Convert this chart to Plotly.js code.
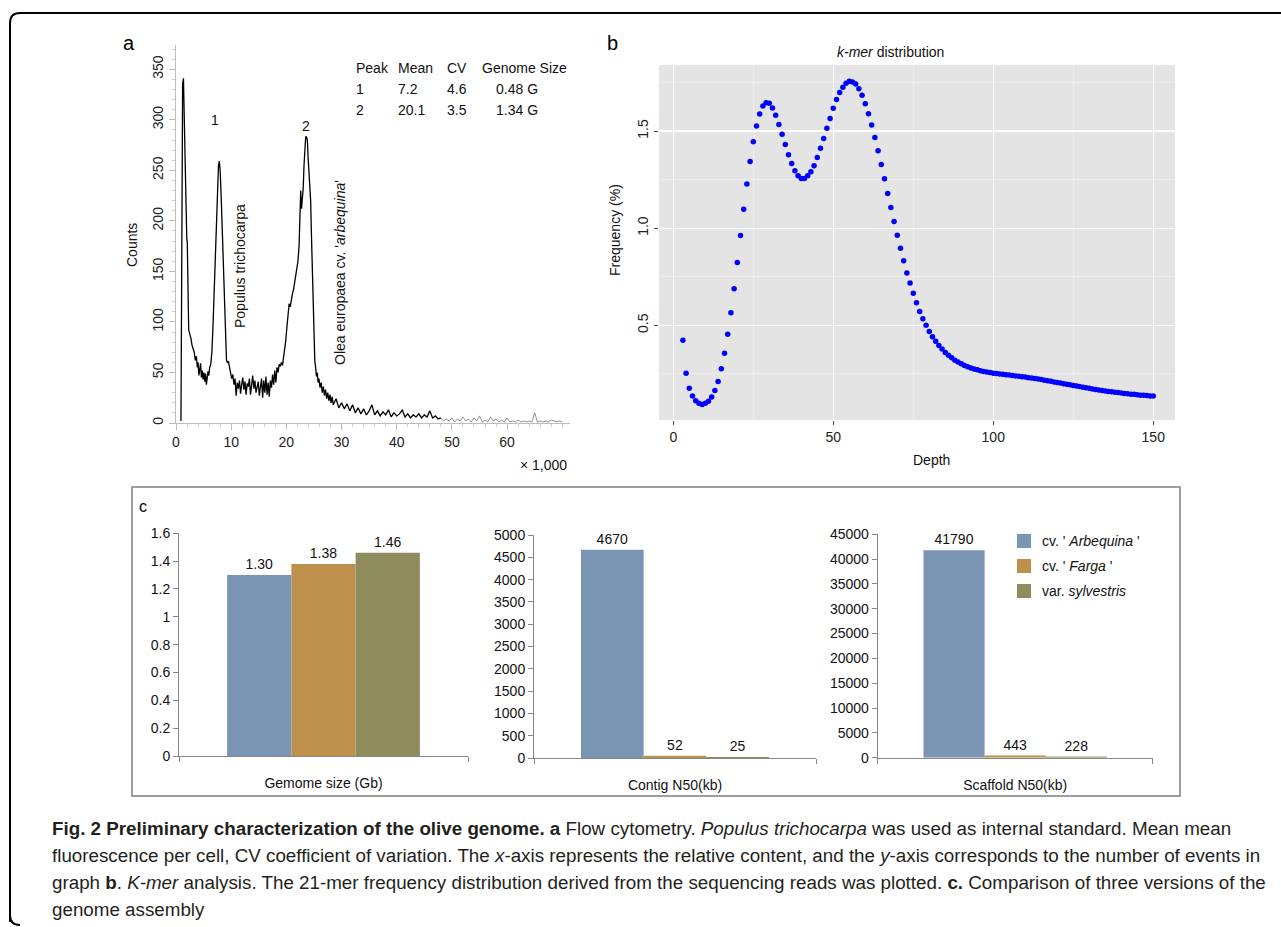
<!DOCTYPE html>
<html>
<head>
<meta charset="utf-8">
<script src="https://cdn.plot.ly/plotly-3.0.1.min.js"></script>
<style>
  html, body { margin: 0; padding: 0; background: #fff; }
  #chart { width: 1281px; height: 927px; }
</style>
</head>
<body>
<div id="chart"></div>
<script>
// ---------- Panel a: flow cytometry ----------
const flowRelContent = [0.9,1.05,1.2,1.35,1.5,1.65,1.8,1.95,2.05,2.2,2.3,2.5,2.7,2.9,3.1,3.3,3.5,3.7,3.85,4.0,4.15,4.3,4.45,4.6,4.75,4.9,5.05,5.2,5.35,5.5,5.65,5.8,5.95,6.1,6.3,6.5,6.7,6.9,7.1,7.3,7.5,7.7,7.85,8.0,8.2,8.4,8.6,8.8,9.0,9.15,9.3,9.5,9.7,9.9,10.1,10.3,10.5,10.7,10.9,11.1,11.3,11.5,11.7,11.9,12.1,12.3,12.5,12.7,12.9,13.1,13.3,13.5,13.7,13.9,14.1,14.3,14.5,14.7,14.9,15.1,15.3,15.5,15.7,15.9,16.1,16.3,16.5,16.7,16.9,17.1,17.3,17.5,17.7,17.9,18.1,18.3,18.5,18.7,18.9,19.1,19.3,19.5,19.7,19.9,20.1,20.3,20.5,20.7,20.9,21.1,21.3,21.5,21.7,21.9,22.1,22.3,22.45,22.6,22.75,22.9,23.05,23.2,23.35,23.5,23.65,23.8,23.95,24.1,24.25,24.4,24.55,24.7,24.85,25.0,25.15,25.3,25.45,25.6,25.75,25.9,26.1,26.3,26.5,26.7,26.9,27.1,27.3,27.5,27.7,27.9,28.1,28.3,28.5,29.0,29.5,30.0,30.5,31.0,31.5,32.0,32.5,33.0,33.5,34.0,34.5,35.0,35.5,36.0,36.5,37.0,37.5,38.0,38.5,39.0,39.5,40.0,40.5,41.0,41.5,42.0,42.5,43.0,43.5,44.0,44.5,45.0,45.5,46.0,46.5,47.0,47.5,48.0];
const flowCounts = [2,120,335,341,300,232,196,183,178,120,92,88,84,77,73,70,62,66,55,60,47,55,59,45,52,43,50,41,49,38,46,51,47,55,58,70,95,132,165,200,232,255,259,250,222,185,145,105,80,62,60,61,55,50,44,48,38,44,27,40,34,42,29,38,45,33,41,28,39,36,44,28,40,47,34,42,30,38,41,27,36,44,25,42,30,46,28,40,26,42,35,48,38,52,40,55,50,58,56,60,57,65,75,82,95,108,118,115,124,128,132,140,146,152,160,175,195,230,212,222,232,255,278,283,283,280,262,245,228,220,185,150,110,80,62,55,46,50,40,44,35,40,30,36,27,33,24,30,22,28,20,26,18,24,15,20,14,19,12,18,10,15,9,14,8,12,18,8,12,7,11,8,13,6,10,7,9,13,6,9,5,8,6,9,5,8,6,12,5,7,4,5];
const flowTailContent = [48.0,48.5,49.0,49.5,50.0,50.5,51.0,51.5,52.0,52.5,53.0,53.5,54.0,54.5,55.0,55.5,56.0,56.5,57.0,57.5,58.0,58.5,59.0,59.5,60.0,60.5,61.0,61.5,62.0,62.5,63.0,63.5,64.0,64.5,65.0,65.5,66.0,66.5,67.0,67.5,68.0,68.5,69.0,69.5,70.0];
const flowTailCounts = [5,2,4,2,5,1,4,2,6,2,4,1,5,2,7,1,3,1,6,2,4,1,3,1,5,1,2,1,3,1,2,1,2,1,10,1,2,1,2,1,3,2,1,2,1];
const flowTickValues = [0, 10, 20, 30, 40, 50, 60];
const peakTableHeader = ["Peak", "Mean", "CV", "Genome Size"];
const peakIds = ["1", "2"];
const peakMeans = ["7.2", "20.1"];
const peakCVs = ["4.6", "3.5"];
const peakGenomeSizes = ["0.48 G", "1.34 G"];

// ---------- Panel b: k-mer distribution ----------
const kmerDepth = [3,4,5,6,7,8,9,10,11,12,13,14,15,16,17,18,19,20,21,22,23,24,25,26,27,28,29,30,31,32,33,34,35,36,37,38,39,40,41,42,43,44,45,46,47,48,49,50,51,52,53,54,55,56,57,58,59,60,61,62,63,64,65,66,67,68,69,70,71,72,73,74,75,76,77,78,79,80,81,82,83,84,85,86,87,88,89,90,91,92,93,94,95,96,97,98,99,100,101,102,103,104,105,106,107,108,109,110,111,112,113,114,115,116,117,118,119,120,121,122,123,124,125,126,127,128,129,130,131,132,133,134,135,136,137,138,139,140,141,142,143,144,145,146,147,148,149,150];
const kmerFrequency = [0.423,0.254,0.176,0.136,0.112,0.099,0.093,0.099,0.110,0.131,0.165,0.211,0.277,0.357,0.454,0.565,0.689,0.823,0.962,1.098,1.227,1.344,1.445,1.526,1.588,1.629,1.646,1.643,1.619,1.582,1.534,1.483,1.431,1.378,1.333,1.296,1.270,1.256,1.256,1.270,1.290,1.321,1.364,1.411,1.462,1.515,1.565,1.617,1.662,1.699,1.725,1.746,1.756,1.753,1.742,1.718,1.684,1.641,1.589,1.531,1.467,1.399,1.328,1.254,1.179,1.107,1.034,0.964,0.897,0.833,0.770,0.718,0.665,0.617,0.572,0.534,0.500,0.469,0.442,0.418,0.397,0.378,0.361,0.346,0.333,0.321,0.311,0.302,0.294,0.287,0.281,0.276,0.271,0.267,0.263,0.260,0.257,0.254,0.252,0.250,0.248,0.246,0.244,0.242,0.240,0.238,0.236,0.234,0.231,0.229,0.226,0.224,0.221,0.218,0.215,0.212,0.209,0.206,0.203,0.200,0.197,0.194,0.191,0.188,0.185,0.182,0.179,0.176,0.173,0.170,0.167,0.165,0.162,0.160,0.158,0.156,0.154,0.152,0.150,0.148,0.146,0.145,0.143,0.141,0.140,0.139,0.137,0.136];

// ---------- Panel c: assembly comparison ----------
const assemblyVersions = ["cv. ' <i>Arbequina</i> '", "cv. ' <i>Farga</i> '", "var. <i>sylvestris</i>"];
const versionColors = ["#7a94b3", "#bd904c", "#8e8c5c"];
const metricCategories = ["Gemome size (Gb)", "Contig N50(kb)", "Scaffold N50(kb)"];
const genomeSizeGb = [1.30, 1.38, 1.46];
const contigN50kb = [4670, 52, 25];
const scaffoldN50kb = [41790, 443, 228];

// ---------- helpers ----------
const W = 1281, H = 927;
const px = v => v / W;
const py = v => 1 - v / H;
const FONT = "Liberation Sans, Arial, sans-serif";
const CAPFONT = "Liberation Sans, Arial, sans-serif";

const traces = [];
traces.push({x: flowRelContent, y: flowCounts, xaxis: 'x', yaxis: 'y', type: 'scatter', mode: 'lines',
  line: {color: '#000', width: 1.3}, hoverinfo: 'skip'});
traces.push({x: flowTailContent, y: flowTailCounts, xaxis: 'x', yaxis: 'y', type: 'scatter', mode: 'lines',
  line: {color: '#777', width: 0.8}, hoverinfo: 'skip'});
traces.push({x: kmerDepth, y: kmerFrequency, xaxis: 'x2', yaxis: 'y2', type: 'scatter', mode: 'markers',
  marker: {color: '#0000ff', size: 5.5}, hoverinfo: 'skip'});

const metricSeries = [genomeSizeGb, contigN50kb, scaffoldN50kb];
const axisPairs = [['x3', 'y3'], ['x4', 'y4'], ['x5', 'y5']];
metricSeries.forEach((series, m) => {
  series.forEach((val, v) => {
    traces.push({
      type: 'bar', x: [metricCategories[m]], y: [val], xaxis: axisPairs[m][0], yaxis: axisPairs[m][1],
      name: assemblyVersions[v], offsetgroup: String(v), marker: {color: versionColors[v]},
      text: [m === 0 ? val.toFixed(2) : String(val)], textposition: 'outside',
      textfont: {family: FONT, size: 14, color: '#111'}, cliponaxis: false, hoverinfo: 'skip'
    });
  });
});

const aTick = {color: '#222', size: 14, family: FONT};
const cAxisY = (d0, d1, range, dtick, anchor) => ({
  domain: [py(d0), py(d1)], range: range, dtick: dtick, tick0: 0, anchor: anchor, tickformat: dtick < 1 ? '' : 'd',
  showline: true, linecolor: '#868686', linewidth: 1, ticks: 'outside', ticklen: 5, tickcolor: '#868686',
  showgrid: false, zeroline: false, tickfont: {size: 14, color: '#111', family: FONT}
});
const cAxisX = (d0, d1, anchor) => ({
  domain: [px(d0), px(d1)], anchor: anchor, type: 'category',
  showline: true, linecolor: '#868686', linewidth: 1, ticks: 'outside', ticklen: 5, tickcolor: '#868686',
  tickson: 'boundaries', showgrid: false, zeroline: false, ticklabelstandoff: 14,
  tickfont: {size: 14, color: '#111', family: FONT}
});

const ann = [];
const txt = (x, y, text, opts = {}) => ann.push(Object.assign({
  xref: 'paper', yref: 'paper', x: px(x), y: py(y), text: text, showarrow: false,
  xanchor: 'center', yanchor: 'middle', font: {family: FONT, size: 14, color: '#111'}
}, opts));

// panel labels
txt(129, 43, 'a', {font: {family: FONT, size: 20, color: '#000'}});
txt(612, 43, 'b', {font: {family: FONT, size: 20, color: '#000'}});
txt(143, 506, 'c', {font: {family: FONT, size: 16, color: '#000'}});

// panel a texts
const colX = [354, 396, 445, 480];
peakTableHeader.forEach((h, i) => txt(colX[i], 68, h, {xanchor: 'left'}));
const rowY = [89, 110];
peakIds.forEach((p, r) => {
  txt(colX[0], rowY[r], p, {xanchor: 'left'});
  txt(colX[1], rowY[r], peakMeans[r], {xanchor: 'left'});
  txt(colX[2], rowY[r], peakCVs[r], {xanchor: 'left'});
  txt(494, rowY[r], peakGenomeSizes[r], {xanchor: 'left'});
});
txt(215, 120, '1');
txt(306, 126, '2');
txt(240, 266, 'Populus trichocarpa', {textangle: -90});
txt(340, 273, "Olea europaea cv. '<i>arbequina</i>'", {textangle: -90});
txt(132, 245, 'Counts', {textangle: -90});
txt(543, 465, '× 1,000');

// panel b texts
txt(890, 52, '<i>k-mer</i> distribution');
txt(615, 230, 'Frequency (%)', {textangle: -90});
txt(931, 460, 'Depth');

// panel c legend
const legY = [541, 566, 591];
assemblyVersions.forEach((name, i) => {
  txt(1040, legY[i], name, {xanchor: 'left'});
});

// caption
const capLines = [
  "<b>Fig. 2 Preliminary characterization of the olive genome. a</b> Flow cytometry. <i>Populus trichocarpa</i> was used as internal standard. Mean mean",
  "fluorescence per cell, CV coefficient of variation. The <i>x</i>-axis represents the relative content, and the <i>y</i>-axis corresponds to the number of events in",
  "graph <b>b</b>. <i>K-mer</i> analysis. The 21-mer frequency distribution derived from the sequencing reads was plotted. <b>c.</b> Comparison of three versions of the",
  "genome assembly"
];
const capY = [828, 855, 882, 909];
capLines.forEach((l, i) => txt(50, capY[i], l, {xanchor: 'left', font: {family: CAPFONT, size: 18.8, color: '#231f20'}}));

// shapes
const shapes = [];
shapes.push({type: 'rect', xref: 'x2 domain', yref: 'y2 domain', x0: 0, x1: 1, y0: 0, y1: 1,
  fillcolor: '#e4e4e4', line: {width: 0}, layer: 'below'});
shapes.push({type: 'rect', xref: 'paper', yref: 'paper', x0: px(132), x1: px(1180), y0: py(796), y1: py(487),
  line: {color: '#7f7f7f', width: 1.5}, fillcolor: 'rgba(0,0,0,0)'});
legY.forEach((y, i) => shapes.push({type: 'rect', xref: 'paper', yref: 'paper',
  x0: px(1017), x1: px(1031), y0: py(y + 7), y1: py(y - 7), fillcolor: versionColors[i], line: {width: 0}}));
const P = (x, y) => `${px(x)},${py(y)}`;
shapes.push({type: 'path', xref: 'paper', yref: 'paper',
  path: `M ${P(10, 922)} L ${P(10, 23)} Q ${P(10, 13)} ${P(20, 13)} L ${P(1281, 13)}`,
  line: {color: '#000', width: 2}});
shapes.push({type: 'path', xref: 'paper', yref: 'paper',
  path: `M ${P(10, 915)} Q ${P(10, 925)} ${P(20, 925)}`, line: {color: '#000', width: 2}});

const layout = {
  width: W, height: H, margin: {l: 0, r: 0, t: 0, b: 0}, showlegend: false,
  paper_bgcolor: '#fff', plot_bgcolor: 'rgba(0,0,0,0)',
  font: {family: FONT, size: 14, color: '#111'},
  barmode: 'group', bargap: 0.333, bargroupgap: 0,
  xaxis: {domain: [px(176), px(570)], range: [0, 71.4], anchor: 'y', showline: true, linecolor: '#bdbdbd',
    ticks: 'outside', ticklen: 6, tickcolor: '#bdbdbd', tickmode: 'array', tickvals: flowTickValues,
    showgrid: false, zeroline: false,
    minor: {dtick: 2, tick0: 0, ticks: 'outside', ticklen: 3, tickcolor: '#cfcfcf'}, tickfont: aTick},
  yaxis: {domain: [py(423), py(45)], range: [0, 374], anchor: 'x', showline: true, linecolor: '#bdbdbd',
    ticks: 'outside', ticklen: 6, tickcolor: '#bdbdbd', dtick: 50, tick0: 0, showgrid: false, zeroline: false,
    tickangle: -90, minor: {dtick: 10, ticks: 'outside', ticklen: 3, tickcolor: '#cfcfcf'}, tickfont: aTick},
  xaxis2: {domain: [px(659), px(1175)], range: [-4.47, 156.8], anchor: 'y2', dtick: 50, tick0: 0,
    showgrid: true, gridcolor: '#ffffff', gridwidth: 1.2, zeroline: false, showline: false,
    ticks: 'outside', ticklen: 4, tickcolor: '#444',
    minor: {dtick: 25, tick0: 0, showgrid: true, gridcolor: '#f1f1f1', gridwidth: 0.6, ticks: ''},
    tickfont: {size: 14, color: '#222', family: FONT}},
  yaxis2: {domain: [py(420), py(65)], range: [0.013, 1.84], anchor: 'x2', dtick: 0.5, tick0: 0, tickformat: '.1f',
    showgrid: true, gridcolor: '#ffffff', gridwidth: 1.2, zeroline: false, showline: false,
    ticks: 'outside', ticklen: 4, tickcolor: '#444', tickangle: -90,
    minor: {dtick: 0.25, tick0: 0, showgrid: true, gridcolor: '#f1f1f1', gridwidth: 0.6, ticks: ''},
    tickfont: {size: 14, color: '#222', family: FONT}},
  xaxis3: cAxisX(179, 468, 'y3'),
  yaxis3: cAxisY(756, 533.3, [0, 1.6], 0.2, 'x3'),
  xaxis4: cAxisX(534, 816, 'y4'),
  yaxis4: cAxisY(758, 535, [0, 5000], 500, 'x4'),
  xaxis5: cAxisX(877.7, 1152.7, 'y5'),
  yaxis5: cAxisY(757.7, 534.3, [0, 45000], 5000, 'x5'),
  annotations: ann,
  shapes: shapes
};

Plotly.newPlot('chart', traces, layout, {displayModeBar: false, staticPlot: true});
</script>
</body>
</html>
